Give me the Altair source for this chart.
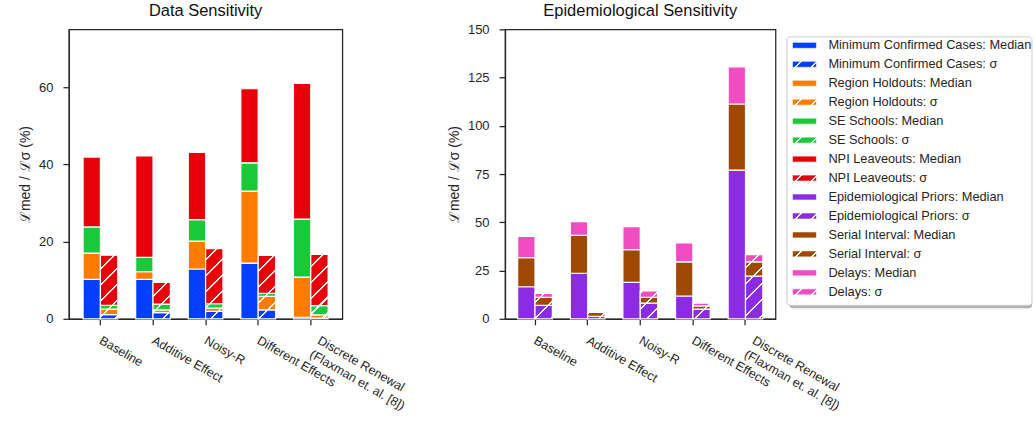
import math
import altair as alt

# ---------------- data ----------------
groups = ["Baseline", "Additive Effect", "Noisy-R", "Different Effects",
          "Discrete Renewal\n(Flaxman et. al. [8])"]
kinds = ["Median", "σ"]

data_components = ["Minimum Confirmed Cases", "Region Holdouts", "SE Schools", "NPI Leaveouts"]
data_colors = ["#023eff", "#ff7c00", "#1ac938", "#e8000b"]
# segment sizes (%), one value per group
mcc_median = [10.2, 10.2, 12.9, 14.4, 0.4]
mcc_sigma = [1.1, 1.6, 1.9, 2.3, 0.2]
rh_median = [6.8, 2.0, 7.2, 18.7, 10.4]
rh_sigma = [1.4, 0.7, 0.85, 3.5, 0.8]
ses_median = [6.8, 3.7, 5.6, 7.3, 15.0]
ses_sigma = [1.0, 1.5, 1.15, 0.8, 2.4]
npi_median = [18.1, 26.3, 17.4, 19.2, 35.2]
npi_sigma = [13.0, 5.6, 14.3, 9.8, 13.3]

epi_components = ["Epidemiological Priors", "Serial Interval", "Delays"]
epi_colors = ["#8b2be2", "#9f4800", "#f14cc1"]
ep_median = [16.6, 23.5, 18.9, 11.8, 77.0]
ep_sigma = [7.0, 1.3, 8.1, 5.0, 22.1]
si_median = [15.1, 19.7, 16.9, 17.7, 34.3]
si_sigma = [4.1, 2.0, 3.0, 1.7, 7.4]
delay_median = [11.0, 7.2, 12.0, 9.8, 19.3]
delay_sigma = [2.1, 0.3, 3.3, 1.4, 3.8]

left_ticks = [0, 20, 40, 60]
right_ticks = [0, 25, 50, 75, 100, 125, 150]

# ---------------- style ----------------
FONT = "Liberation Sans"
INK = "#262626"
PLOT_H = 290
P_INNER = 0.34
HATCH_P = 16.0   # hatch period (px, along x+y)
HATCH_W = 2.4    # hatch line width (px, along x+y)


def hatch(color, w, h, phase):
    """Linear gradient that draws '/' white hatch lines on a w x h rect."""
    L = w + h
    stops = [{"offset": 0, "color": color}]
    n0 = int(math.floor((phase - HATCH_W) / HATCH_P)) - 1
    n1 = int(math.ceil((phase + L + HATCH_W) / HATCH_P)) + 1
    last = 0.0
    for n in range(n0, n1 + 1):
        s = n * HATCH_P - phase
        a = (s - HATCH_W / 2) / L
        b = (s + HATCH_W / 2) / L
        if b <= 0 or a >= 1:
            continue
        a = max(a, last)
        b = min(b, 1.0)
        stops += [{"offset": round(a, 4), "color": color},
                  {"offset": round(a, 4), "color": "white"},
                  {"offset": round(b, 4), "color": "white"},
                  {"offset": round(b, 4), "color": color}]
        last = b
    stops.append({"offset": 1, "color": color})
    k = L / (w * w + h * h)
    return {"gradient": "linear", "x1": 0, "y1": 0,
            "x2": round(k * w, 5), "y2": round(k * h, 5), "stops": stops}


def panel_rows(components, colors, med_lists, sig_lists, ymax, width, p_outer):
    ppu = PLOT_H / ymax
    step = width / (len(groups) - P_INNER + 2 * p_outer)
    sub = step * (1 - P_INNER) / 2
    rows = []
    for gi, g in enumerate(groups):
        for kind, lists in (("Median", med_lists), ("σ", sig_lists)):
            base = 0.0
            for ci, comp in enumerate(components):
                v = lists[ci][gi]
                top = base + v
                if kind == "Median":
                    fill = colors[ci]
                else:
                    x_abs = p_outer * step + gi * step + sub
                    y_abs = (ymax - top) * ppu
                    fill = hatch(colors[ci], sub, max(v * ppu, 0.5), x_abs + y_abs)
                rows.append({"group": g, "kind": kind, "component": comp,
                             "y0": base, "y1": top, "fillv": fill})
                base = top
    return rows


def panel(rows, title, ymax, ticks, width, p_outer, title_offset):
    return alt.Chart(alt.Data(values=rows)).mark_bar(
        stroke="white", strokeWidth=1.2
    ).encode(
        x=alt.X("group:N", sort=groups,
                scale=alt.Scale(paddingInner=P_INNER, paddingOuter=p_outer),
                axis=alt.Axis(title=None, labelAngle=30, labelAlign="left",
                              labelBaseline="top",
                              labelExpr="split(datum.label, '\\n')",
                              labelOffset={"condition": {"test": "indexof(datum.value, 'Discrete') >= 0",
                                                         "value": 11},
                                           "value": 3},
                              labelPadding=9, labelFontSize=12.5, labelLimit=400,
                              labelLineHeight=16)),
        xOffset=alt.XOffset("kind:N", sort=kinds,
                            scale=alt.Scale(paddingInner=0, paddingOuter=0)),
        y=alt.Y("y0:Q", stack=None,
                scale=alt.Scale(domain=[0, ymax], nice=False, zero=True),
                axis=alt.Axis(values=ticks, title="ℒmed / ℒσ (%)")),
        y2="y1:Q",
        fill=alt.Fill("fillv:N", scale=None),
    ).properties(width=width, height=PLOT_H,
                 title=alt.TitleParams(title, anchor="middle", frame="group",
                                       offset=title_offset))


left_rows = panel_rows(data_components, data_colors,
                       [mcc_median, rh_median, ses_median, npi_median],
                       [mcc_sigma, rh_sigma, ses_sigma, npi_sigma],
                       75, 274, 0.27)
right_rows = panel_rows(epi_components, epi_colors,
                        [ep_median, si_median, delay_median],
                        [ep_sigma, si_sigma, delay_sigma],
                        150, 271, 0.24)

left = panel(left_rows, "Data Sensitivity", 75, left_ticks, 274, 0.27, 10)
right = panel(right_rows, "Epidemiological Sensitivity", 150, right_ticks, 271, 0.24, 4)

# ---------------- legend ----------------
legend_labels = []
legend_rows = []
for comp, col in zip(data_components + epi_components, data_colors + epi_colors):
    for kind in kinds:
        lab = f"{comp}: {kind}"
        legend_labels.append(lab)
        f = col if kind == "Median" else hatch(col, 24, 6, 7)
        legend_rows.append({"label": lab, "fillv": f})

one = alt.Data(values=[{"a": 0}])
leg_y = alt.Y("label:N", sort=legend_labels,
              scale=alt.Scale(range=[6.5, 272.5], paddingInner=0, paddingOuter=0),
              axis=None)
shadow = alt.Chart(one).mark_rect(fill="#b0b0b0", cornerRadius=3).encode(
    x=alt.value(3), x2=alt.value(246), y=alt.value(10.5), y2=alt.value(279.5))
box = alt.Chart(one).mark_rect(fill="white", stroke="#cccccc", strokeWidth=1,
                               cornerRadius=3).encode(
    x=alt.value(0.5), x2=alt.value(246), y=alt.value(7.5), y2=alt.value(276.5))
sym = alt.Chart(alt.Data(values=legend_rows)).mark_bar(
    size=6, stroke="white", strokeWidth=0.6).encode(
    x=alt.value(6), x2=alt.value(30), y=leg_y,
    fill=alt.Fill("fillv:N", scale=None))
txt = alt.Chart(alt.Data(values=legend_rows)).mark_text(
    align="left", baseline="middle", fontSize=12.8, font=FONT, color=INK).encode(
    x=alt.value(42), y=leg_y, text="label:N")
legend = alt.layer(shadow, box, sym, txt).properties(
    width=246, height=PLOT_H, view=alt.ViewBackground(stroke="transparent"))

spacer = alt.Chart(one).mark_point(opacity=0).encode(
    x=alt.value(0), y=alt.value(0)).properties(
    width=141, height=PLOT_H, view=alt.ViewBackground(stroke="transparent"))

chart = alt.hconcat(left, spacer, right, legend, spacing=11, bounds="flush").properties(
    padding={"left": 17, "top": 1, "right": 0, "bottom": 0}
).configure_view(
    stroke=INK, strokeWidth=1.25
).configure_axis(
    grid=False, domainColor=INK, domainWidth=1.25, tickColor=INK, tickWidth=1.25,
    tickSize=6, labelColor=INK, labelFont=FONT, labelFontSize=13, labelPadding=10,
    titleFont=FONT, titleFontSize=14, titleColor=INK, titleFontWeight="normal",
    titlePadding=6
).configure_title(
    font=FONT, fontSize=16.5, fontWeight="normal", color="#111111"
)

chart.save("out.html", embed_options={"renderer": "svg", "actions": False})
